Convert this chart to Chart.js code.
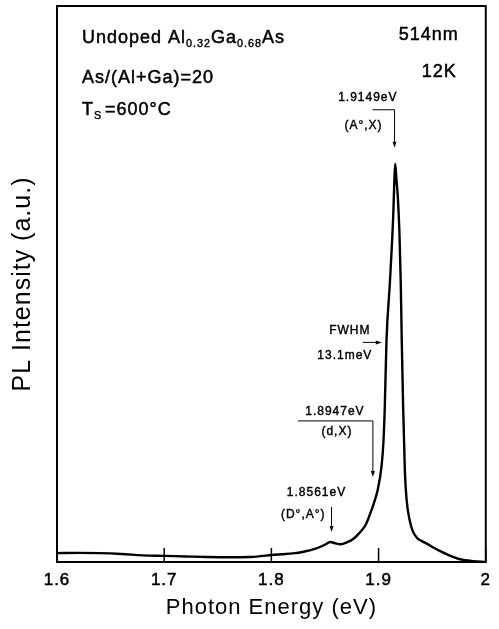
<!DOCTYPE html>
<html>
<head>
<meta charset="utf-8">
<script src="https://cdn.jsdelivr.net/npm/chart.js@4.4.1/dist/chart.umd.min.js"></script>
<style>
  body { margin: 0; background: #fff; }
  #wrap { width: 499px; height: 629px; }
</style>
</head>
<body>
<div id="wrap"><canvas id="plChart" width="499" height="629"></canvas></div>
<script>
// PL spectrum (eV, arbitrary units)
let energy = [1.600, 1.620, 1.640, 1.660, 1.680, 1.700, 1.720, 1.740, 1.760, 1.780,
    1.790, 1.800, 1.810, 1.820, 1.830, 1.842, 1.850, 1.855, 1.860, 1.865,
    1.870, 1.876, 1.882, 1.888, 1.892, 1.8965, 1.899, 1.9027, 1.9045, 1.9058,
    1.9074, 1.9105, 1.9136, 1.9148, 1.9155, 1.9165, 1.9180, 1.9195, 1.9207, 1.9216,
    1.9229, 1.9245, 1.9260, 1.9290, 1.9320, 1.9360, 1.9400, 1.9450, 1.9510, 1.9570,
    1.9660, 1.9760, 1.9880, 2.000];
let intensity = [1.6, 1.65, 1.6, 1.45, 1.2, 1.1, 1.0, 0.9, 0.85, 0.9,
    1.05, 1.25, 1.4, 1.55, 1.85, 2.45, 3.1, 3.6, 3.35, 3.2,
    3.5, 4.1, 5.2, 6.7, 8.6, 11.1, 12.8, 17.1, 21.5, 27.9,
    39.9, 50.1, 62.0, 69.0, 71.6, 69.2, 65.5, 59.0, 50.1, 40.0,
    28.0, 16.5, 11.5, 7.5, 5.5, 4.3, 3.8, 3.3, 2.6, 2.0,
    1.2, 0.5, 0.15, 0.0];
let xTicks = [1.6, 1.7, 1.8, 1.9, 2.0];

// marked lines: energy, arrow tip height
let peakEnergy = [1.9149, 1.8947, 1.8561];
let peakTip = [74.5, 15.3, 5.4];
let peakText = ['1.9149eV', '1.8947eV', '1.8561eV'];
let peakName = ['(A°,X)', '(d,X)', '(D°,A°)'];
let fwhmAt = [1.903, 39.5];
let fwhmText = ['FWHM', '13.1meV'];

const FONT = "'Liberation Sans', Arial, Helvetica, sans-serif";

function text(ctx, str, x, y, size, align) {
    ctx.font = size + 'px ' + FONT;
    ctx.textAlign = align || 'left';
    ctx.textBaseline = 'middle';
    ctx.lineWidth = size > 14 ? 0.5 : 0.4;
    ctx.strokeText(str, x, y);
    ctx.fillText(str, x, y);
    return ctx.measureText(str).width;
}

// draws pieces like [['Al', 0], ['0.32', 1]] where 1 = subscript
function richText(ctx, parts, x, y, size) {
    let cx = x;
    parts.forEach(p => {
        if (p[1]) {
            cx += text(ctx, p[0], cx, y + 6, size * 0.6);
        } else {
            cx += text(ctx, p[0], cx, y, size);
        }
    });
}

function arrowDown(ctx, x, y1, y2) {
    ctx.lineWidth = 1;
    ctx.beginPath();
    ctx.moveTo(x, y1);
    ctx.lineTo(x, y2 - 5);
    ctx.stroke();
    ctx.beginPath();
    ctx.moveTo(x - 2, y2 - 6);
    ctx.lineTo(x + 2, y2 - 6);
    ctx.lineTo(x, y2);
    ctx.closePath();
    ctx.fill();
}

function arrowRight(ctx, x1, x2, y) {
    ctx.lineWidth = 1;
    ctx.beginPath();
    ctx.moveTo(x1, y);
    ctx.lineTo(x2 - 5, y);
    ctx.stroke();
    ctx.beginPath();
    ctx.moveTo(x2 - 6, y - 2);
    ctx.lineTo(x2 - 6, y + 2);
    ctx.lineTo(x2, y);
    ctx.closePath();
    ctx.fill();
}

function hLine(ctx, x1, x2, y) {
    ctx.lineWidth = 1;
    ctx.beginPath();
    ctx.moveTo(x1, y);
    ctx.lineTo(x2, y);
    ctx.stroke();
}

const annotate = {
    id: 'annotate',
    beforeLayout(chart) {
        chart.ctx.letterSpacing = '1px';
    },
    beforeDraw(chart) {
        chart.ctx.letterSpacing = '1px';
    },
    afterDraw(chart) {
        const ctx = chart.ctx;
        const a = chart.chartArea;
        const xs = chart.scales.x;
        const ys = chart.scales.y;
        ctx.save();
        ctx.strokeStyle = '#000';
        ctx.fillStyle = '#000';

        // frame
        ctx.lineWidth = 2;
        ctx.strokeRect(a.left, a.top, a.right - a.left, a.bottom - a.top);

        // inward tick marks
        ctx.lineWidth = 1.5;
        xs.ticks.forEach(t => {
            const x = xs.getPixelForValue(t.value);
            ctx.beginPath();
            ctx.moveTo(x, a.bottom);
            ctx.lineTo(x, a.bottom - 14);
            ctx.stroke();
        });

        // sample description
        ctx.letterSpacing = '1px';
        richText(ctx, [['Undoped Al', 0], ['0.32', 1], ['Ga', 0], ['0.68', 1], ['As', 0]], a.left + 25, a.top + 32, 18);
        text(ctx, 'As/(Al+Ga)=20', a.left + 25, a.top + 72, 18);
        richText(ctx, [['T', 0], ['S', 1]], a.left + 25, a.top + 104, 18);
        text(ctx, '=600°C', a.left + 48, a.top + 104, 18);
        text(ctx, '514nm', a.right - 27, a.top + 29, 18, 'right');
        text(ctx, '12K', a.right - 29, a.top + 66, 18, 'right');

        // peak markers
        let ax = xs.getPixelForValue(peakEnergy[0]);
        let tip = ys.getPixelForValue(peakTip[0]);
        text(ctx, peakText[0], ax + 3, tip - 50, 12, 'right');
        text(ctx, peakName[0], ax - 12, tip - 22, 12, 'right');
        hLine(ctx, ax - 22, ax, tip - 38);
        arrowDown(ctx, ax, tip - 38, tip);

        ax = xs.getPixelForValue(peakEnergy[1]);
        tip = ys.getPixelForValue(peakTip[1]);
        text(ctx, peakText[1], ax - 38, tip - 65, 12, 'center');
        text(ctx, peakName[1], ax - 36, tip - 45, 12, 'center');
        hLine(ctx, ax - 75, ax, tip - 56);
        arrowDown(ctx, ax, tip - 56, tip);

        ax = xs.getPixelForValue(peakEnergy[2]);
        tip = ys.getPixelForValue(peakTip[2]);
        text(ctx, peakText[2], ax - 15, tip - 39, 12, 'center');
        text(ctx, peakName[2], ax - 6, tip - 17, 12, 'right');
        arrowDown(ctx, ax, tip - 25, tip);

        // FWHM arrow
        const fx = xs.getPixelForValue(fwhmAt[0]);
        const fy = ys.getPixelForValue(fwhmAt[1]);
        text(ctx, fwhmText[0], fx - 32, fy - 12, 12, 'center');
        text(ctx, fwhmText[1], fx - 37, fy + 13, 12, 'center');
        arrowRight(ctx, fx - 19, fx, fy);

        ctx.restore();
    }
};

let chart = new Chart('plChart', {
    type: 'line',
    data: {
        datasets: [{
            data: energy.map((e, i) => ({ x: e, y: intensity[i] })),
            borderColor: '#000',
            borderWidth: 2.4,
            pointRadius: 0,
            cubicInterpolationMode: 'monotone',
            fill: false
        }]
    },
    options: {
        responsive: false,
        animation: false,
        devicePixelRatio: 1,
        layout: { padding: { left: 0, right: 12, top: 6, bottom: 0 } },
        plugins: {
            legend: { display: false },
            tooltip: { enabled: false }
        },
        scales: {
            x: {
                type: 'linear',
                min: 1.6,
                max: 2.0,
                afterBuildTicks: scale => {
                    scale.ticks = xTicks.map(v => ({ value: v }));
                },
                afterFit: scale => { scale.height = 67; },
                grid: { display: false, drawTicks: false },
                border: { display: false },
                ticks: {
                    color: '#000',
                    padding: 8,
                    maxRotation: 0,
                    textStrokeColor: '#000',
                    textStrokeWidth: 0.5,
                    font: { family: FONT, size: 17 },
                    callback: v => String(Number(v.toFixed(1)))
                },
                title: {
                    display: true,
                    text: 'Photon Energy (eV)',
                    color: '#000',
                    font: { family: FONT, size: 22 },
                    padding: { top: 0, bottom: 8 }
                }
            },
            y: {
                min: 0,
                max: 100,
                afterFit: scale => { scale.width = 57; },
                grid: { display: false, drawTicks: false },
                border: { display: false },
                ticks: { display: false },
                title: {
                    display: true,
                    text: 'PL Intensity (a.u.)',
                    color: '#000',
                    font: { family: FONT, size: 25 },
                    padding: { top: 8, bottom: 0 }
                }
            }
        }
    },
    plugins: [annotate]
});
</script>
</body>
</html>
